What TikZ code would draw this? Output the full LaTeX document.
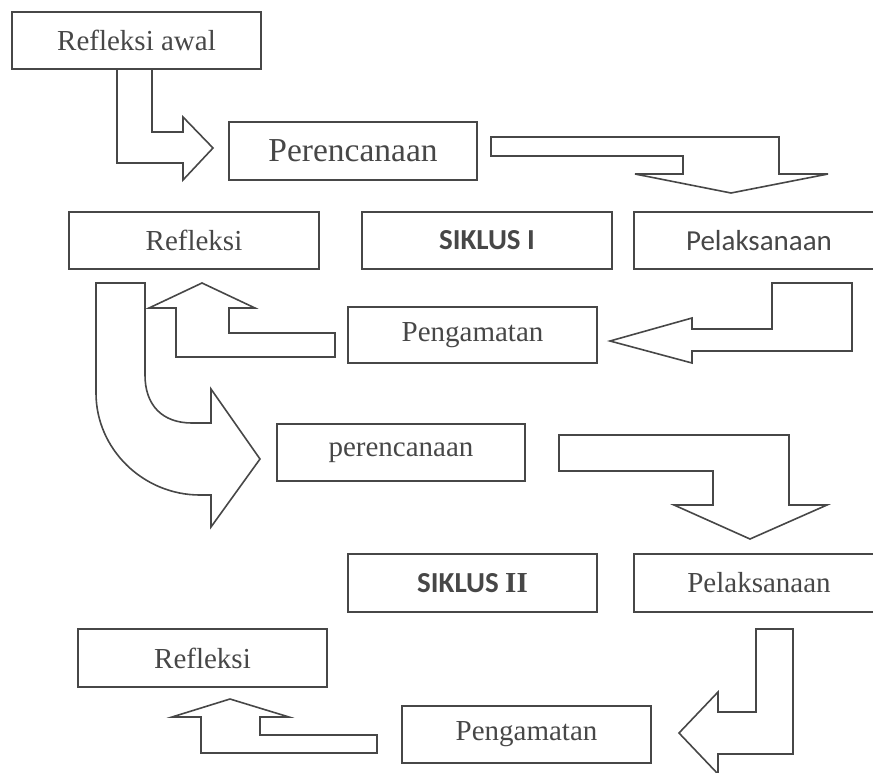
\documentclass[tikz,border=0pt]{standalone}
\usepackage{fontspec}
\setmainfont{Liberation Serif}
\newfontfamily\calib{Carlito}
\begin{document}
\begin{tikzpicture}[x=1pt,y=-1pt,
  ink/.style={draw=black!72, line width=1.6pt},
  box/.style={ink, rectangle, inner sep=0pt, text=black!72,
    font=\fontsize{29}{34}\selectfont},
  blockarrow/.style={ink, line join=miter, fill=white}]
\useasboundingbox (0,0) rectangle (873,772);
% boxes
\node[box, minimum width=249, minimum height=57] (ra) at (136.5,40.5) {Refleksi awal};
\node[box, minimum width=248, minimum height=58, font=\fontsize{33.5}{38}\selectfont] (p1) at (353,151) {Perencanaan};
\node[box, minimum width=250, minimum height=57] (r1) at (194,240.5) {Refleksi};
\node[box, minimum width=250, minimum height=57, font=\calib\bfseries\fontsize{29}{34}\selectfont] (s1) at (487,240.5) {SIKLUS I};
\node[box, minimum width=250, minimum height=57, font=\calib\fontsize{29}{34}\selectfont] (l1) at (759,240.5) {Pelaksanaan};
\node[box, minimum width=249, minimum height=56] (g1) at (472.5,335) {Pengamatan};
\node[box, minimum width=248, minimum height=57] (p2) at (401,452.5) {perencanaan};
\node[box, minimum width=249, minimum height=58] (s2) at (472.5,583) {{\calib\bfseries SIKLUS }{\bfseries II}};
\node[box, minimum width=250, minimum height=58] (l2) at (759,583) {Pelaksanaan};
\node[box, minimum width=249, minimum height=58] (r2) at (202.5,658) {Refleksi};
\node[box, minimum width=249, minimum height=57] (g2) at (526.5,734.5) {Pengamatan};
% block arrows
\draw[blockarrow] (117,69) -- (152,69) -- (152,132) -- (183,132) -- (183,117) -- (213,148) -- (183,180) -- (183,163) -- (117,163) -- cycle;
\draw[blockarrow] (491,137) -- (779,137) -- (779,174) -- (828,174) -- (731,193) -- (635,174) -- (683,174) -- (683,156) -- (491,156) -- cycle;
\draw[blockarrow] (772,283) -- (852,283) -- (852,351) -- (692,351) -- (692,363) -- (610,341) -- (692,318) -- (692,329) -- (772,329) -- cycle;
\draw[blockarrow] (202,283) -- (255,308) -- (229,308) -- (229,333) -- (335,333) -- (335,357) -- (176,357) -- (176,308) -- (149,308) -- cycle;
\draw[blockarrow] (96,283) -- (145,283) -- (145,375) .. controls (145,405) and (162,423) .. (192,423) -- (211,423) -- (211,389) -- (260,459) -- (211,527) -- (211,495) -- (200,495) .. controls (143,495) and (96,449) .. (96,393) -- cycle;
\draw[blockarrow] (559,435) -- (789,435) -- (789,505) -- (827,505) -- (750,539) -- (674,505) -- (713,505) -- (713,471) -- (559,471) -- cycle;
\draw[blockarrow] (756,629) -- (793,629) -- (793,754) -- (718,754) -- (718,774) -- (679,733) -- (718,692) -- (718,712) -- (756,712) -- cycle;
\draw[blockarrow] (230,699) -- (289,717) -- (260,717) -- (260,735) -- (377,735) -- (377,753) -- (201,753) -- (201,717) -- (172,717) -- cycle;
\end{tikzpicture}
\end{document}
